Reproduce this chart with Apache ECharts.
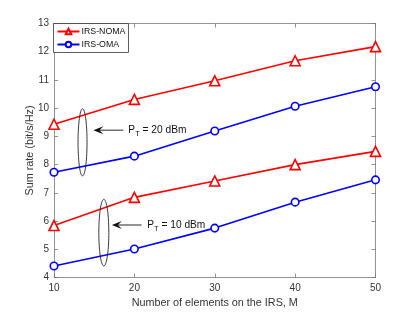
<!DOCTYPE html>
<html><head><meta charset="utf-8">
<script src="https://cdn.jsdelivr.net/npm/echarts@6/dist/echarts.min.js"></script>
<style>html,body{margin:0;padding:0;background:#fff}#c{width:415px;height:312px}</style>
</head><body><div id="c"></div>
<script>
const categories = [10, 20, 30, 40, 50];
const nomaHigh = [9.43, 10.31, 10.97, 11.68, 12.18];
const omaHigh  = [7.73, 8.30, 9.19, 10.07, 10.76];
const nomaLow  = [5.84, 6.84, 7.42, 8.00, 8.47];
const omaLow   = [4.41, 5.01, 5.75, 6.67, 7.46];
const xTicks = [10, 20, 30, 40, 50];
const yTicks = [4, 5, 6, 7, 8, 9, 10, 11, 12, 13];

const FONT = 'Liberation Sans, Arial, sans-serif';
const chart = echarts.init(document.getElementById('c'), null, {renderer: 'canvas'});
const pair = arr => categories.map((x, i) => [x, arr[i]]);
const red = '#ff0000', blue = '#0000ff';
function mk(name, data, color, symbol, size) {
  return {
    name, type: 'line', data: pair(data), symbol, symbolSize: size,
    lineStyle: {color, width: 1.6}, itemStyle: {color: '#fff', borderColor: color, borderWidth: 1.6},
    color, showSymbol: true, animation: false, z: 3
  };
}
const axisCommon = {
  axisLine: {show: true, lineStyle: {color: '#777', width: 0.8}},
  axisTick: {show: true, inside: true, length: 4, lineStyle: {color: '#777', width: 0.8}},
  splitLine: {show: false}
};
chart.setOption({
  animation: false,
  grid: {left: 54, right: 39.5, top: 23.5, bottom: 34.5, containLabel: false, outerBoundsMode: 'none'},
  legend: {
    left: 53.5, top: 23.5, orient: 'vertical', itemGap: 3, itemWidth: 22, itemHeight: 7,
    padding: [3, 3, 3, 3], borderColor: '#333', borderWidth: 0.8, backgroundColor: '#fff',
    textStyle: {fontFamily: FONT, fontSize: 8.8, color: '#111', padding: [0, 0, 0, -3], lineHeight: 10},
    data: ['IRS-NOMA', 'IRS-OMA']
  },
  xAxis: [
    Object.assign({type: 'value', min: 10, max: 50, interval: 10, position: 'bottom',
      name: 'Number of elements on the IRS, M', nameLocation: 'middle', nameGap: 20, nameMoveOverlap: false,
      nameTextStyle: {fontFamily: FONT, fontSize: 10.8, color: '#333'},
      axisLabel: {fontFamily: FONT, fontSize: 10, color: '#333', margin: 6,
        formatter: v => xTicks.includes(v) ? String(v) : ''}}, axisCommon),
    Object.assign({type: 'value', min: 10, max: 50, interval: 10, position: 'top',
      axisLabel: {show: false}}, axisCommon)
  ],
  yAxis: [
    Object.assign({type: 'value', min: 4, max: 13, interval: 1, position: 'left',
      name: 'Sum rate (bit/s/Hz)', nameLocation: 'middle', nameGap: 18, nameRotate: 90, nameMoveOverlap: false,
      nameTextStyle: {fontFamily: FONT, fontSize: 10.8, color: '#333'},
      axisLabel: {fontFamily: FONT, fontSize: 10, color: '#333', margin: 5,
        formatter: v => yTicks.includes(v) ? String(v) : ''}}, axisCommon),
    Object.assign({type: 'value', min: 4, max: 13, interval: 1, position: 'right',
      axisLabel: {show: false}}, axisCommon)
  ],
  series: [
    mk('IRS-NOMA', nomaHigh, red, 'triangle', 10),
    mk('IRS-OMA', omaHigh, blue, 'circle', 7.5),
    mk('IRS-NOMA', nomaLow, red, 'triangle', 10),
    mk('IRS-OMA', omaLow, blue, 'circle', 7.5)
  ]
});

// annotations (ellipses, arrows, labels) placed via data coordinates
const annots = [
  {ex: 13.55, ey: 8.79, ry: 1.19, rx: 4.5, tipX: 14.9, tailX: 18.62, ay: 9.22, tx: 19.25, label: '20'},
  {ex: 16.2, ey: 5.59, ry: 1.18, rx: 5.0, tipX: 17.2, tailX: 20.9, ay: 5.86, tx: 21.6, label: '10'}
];
const g = [];
const px = p => chart.convertToPixel({xAxisIndex: 0, yAxisIndex: 0}, p);
annots.forEach(a => {
  const c = px([a.ex, a.ey]);
  const top = px([a.ex, a.ey + a.ry]);
  const ryPx = c[1] - top[1];
  const pts = [];
  for (let k = 0; k < 72; k++) {
    const t = k / 72 * Math.PI * 2;
    pts.push([c[0] + a.rx * Math.cos(t), c[1] + ryPx * Math.sin(t)]);
  }
  g.push({type: 'polygon', shape: {points: pts},
    style: {fill: 'none', stroke: '#222', lineWidth: 0.9}, z: 10, silent: true});
  const tip = px([a.tipX, a.ay]);
  const tail = px([a.tailX, a.ay]);
  g.push({type: 'line', shape: {x1: tip[0] + 4, y1: tip[1], x2: tail[0], y2: tail[1]},
    style: {stroke: '#111', lineWidth: 0.9}, z: 10, silent: true});
  g.push({type: 'polygon', shape: {points: [[tip[0], tip[1]], [tip[0] + 10, tip[1] - 4], [tip[0] + 6, tip[1]], [tip[0] + 10, tip[1] + 4]]},
    style: {fill: '#111'}, z: 10, silent: true});
  const tp = px([a.tx, a.ay]);
  g.push({type: 'text', x: tp[0], y: tp[1], z: 10, silent: true,
    style: {text: '{p|P}{s|T}{p| = ' + a.label + ' dBm}', verticalAlign: 'middle', align: 'left',
      rich: {p: {fontFamily: FONT, fontSize: 10.2, fill: '#111', color: '#111'},
             s: {fontFamily: FONT, fontSize: 7.5, fill: '#111', color: '#111', padding: [7, 0, 0, 0]}}}});
});
chart.setOption({graphic: g});
</script></body></html>
